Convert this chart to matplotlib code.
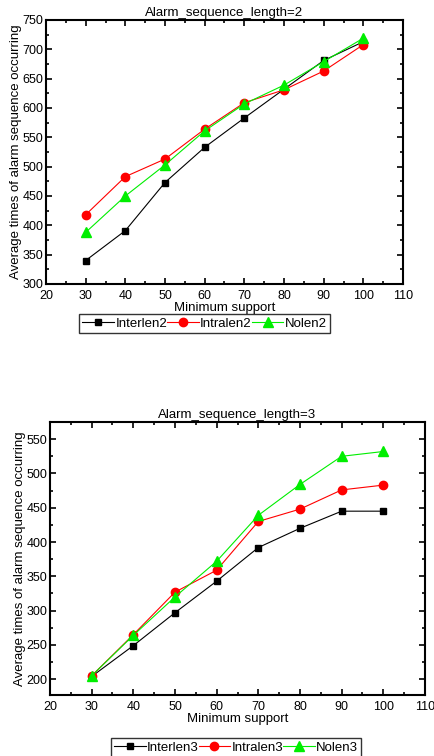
import matplotlib
matplotlib.use("Agg")
import matplotlib.pyplot as plt
from matplotlib.ticker import MultipleLocator

plt.rcParams['font.family'] = ['Liberation Sans', 'DejaVu Sans']

support = [30, 40, 50, 60, 70, 80, 90, 100]

interlen2 = [340, 391, 473, 533, 583, 632, 681, 713]
intralen2 = [418, 483, 513, 564, 609, 631, 663, 708]
nolen2 = [388, 450, 503, 561, 607, 639, 679, 719]

interlen3 = [204, 249, 297, 343, 392, 420, 445, 445]
intralen3 = [205, 265, 327, 359, 430, 448, 476, 483]
nolen3 = [205, 264, 320, 372, 439, 484, 525, 532]

titles = ["Alarm_sequence_length=2", "Alarm_sequence_length=3"]
names2 = ["Interlen2", "Intralen2", "Nolen2"]
names3 = ["Interlen3", "Intralen3", "Nolen3"]

fig = plt.figure(figsize=(4.34, 7.56), dpi=100)
W, H = 434, 756

def make_ax(rect_px, title, series, names, ylim, ymajor, legend_px):
    l, t, r, b = rect_px
    ax = fig.add_axes([l / W, 1 - b / H, (r - l) / W, (b - t) / H])
    styles = [("black", "s", 5), ("red", "o", 6), ("#00ee00", "^", 6.5)]
    handles = []
    for vals, name, (c, m, ms) in zip(series, names, styles):
        h, = ax.plot(support, vals, color=c, marker=m, markersize=ms, lw=0.8, label=name)
        handles.append(h)
    ax.set_xlim(20, 110)
    ax.set_ylim(*ylim)
    ax.xaxis.set_major_locator(MultipleLocator(10))
    ax.xaxis.set_minor_locator(MultipleLocator(5))
    ax.yaxis.set_major_locator(MultipleLocator(ymajor))
    ax.yaxis.set_minor_locator(MultipleLocator(ymajor / 2))
    ax.tick_params(which='both', direction='in', top=True, right=True, labelsize=9)
    ax.tick_params(axis='x', pad=4)
    ax.tick_params(axis='y', pad=2)
    ax.tick_params(which='major', length=4, width=1.2)
    ax.tick_params(which='minor', length=2.5, width=1.2)
    for s in ax.spines.values():
        s.set_linewidth(1.5)
    ax.set_title(title, fontsize=9.5, pad=3)
    ax.set_xlabel("Minimum support", fontsize=9.5, labelpad=0)
    ax.set_ylabel("Average times of alarm sequence occurring", fontsize=9.5, labelpad=0)
    ll, lt, lr, lb = legend_px
    leg = fig.legend(handles=handles, loc='center',
                     bbox_to_anchor=((ll + lr) / 2 / W, 1 - (lt + lb) / 2 / H),
                     ncol=3, fontsize=9.5, frameon=True, fancybox=False,
                     handlelength=2.4, handletextpad=0.1, columnspacing=0.0,
                     borderpad=0.25, borderaxespad=0)
    leg.get_frame().set_edgecolor('black')
    leg.get_frame().set_linewidth(1.0)
    return ax

make_ax((46, 20, 403, 284), titles[0], [interlen2, intralen2, nolen2], names2,
        (300, 750), 50, (79, 314, 330, 333))
make_ax((50, 422, 425, 695), titles[1], [interlen3, intralen3, nolen3], names3,
        (177, 575), 50, (104, 737, 368, 758))

fig.savefig("out.png", dpi=100)
